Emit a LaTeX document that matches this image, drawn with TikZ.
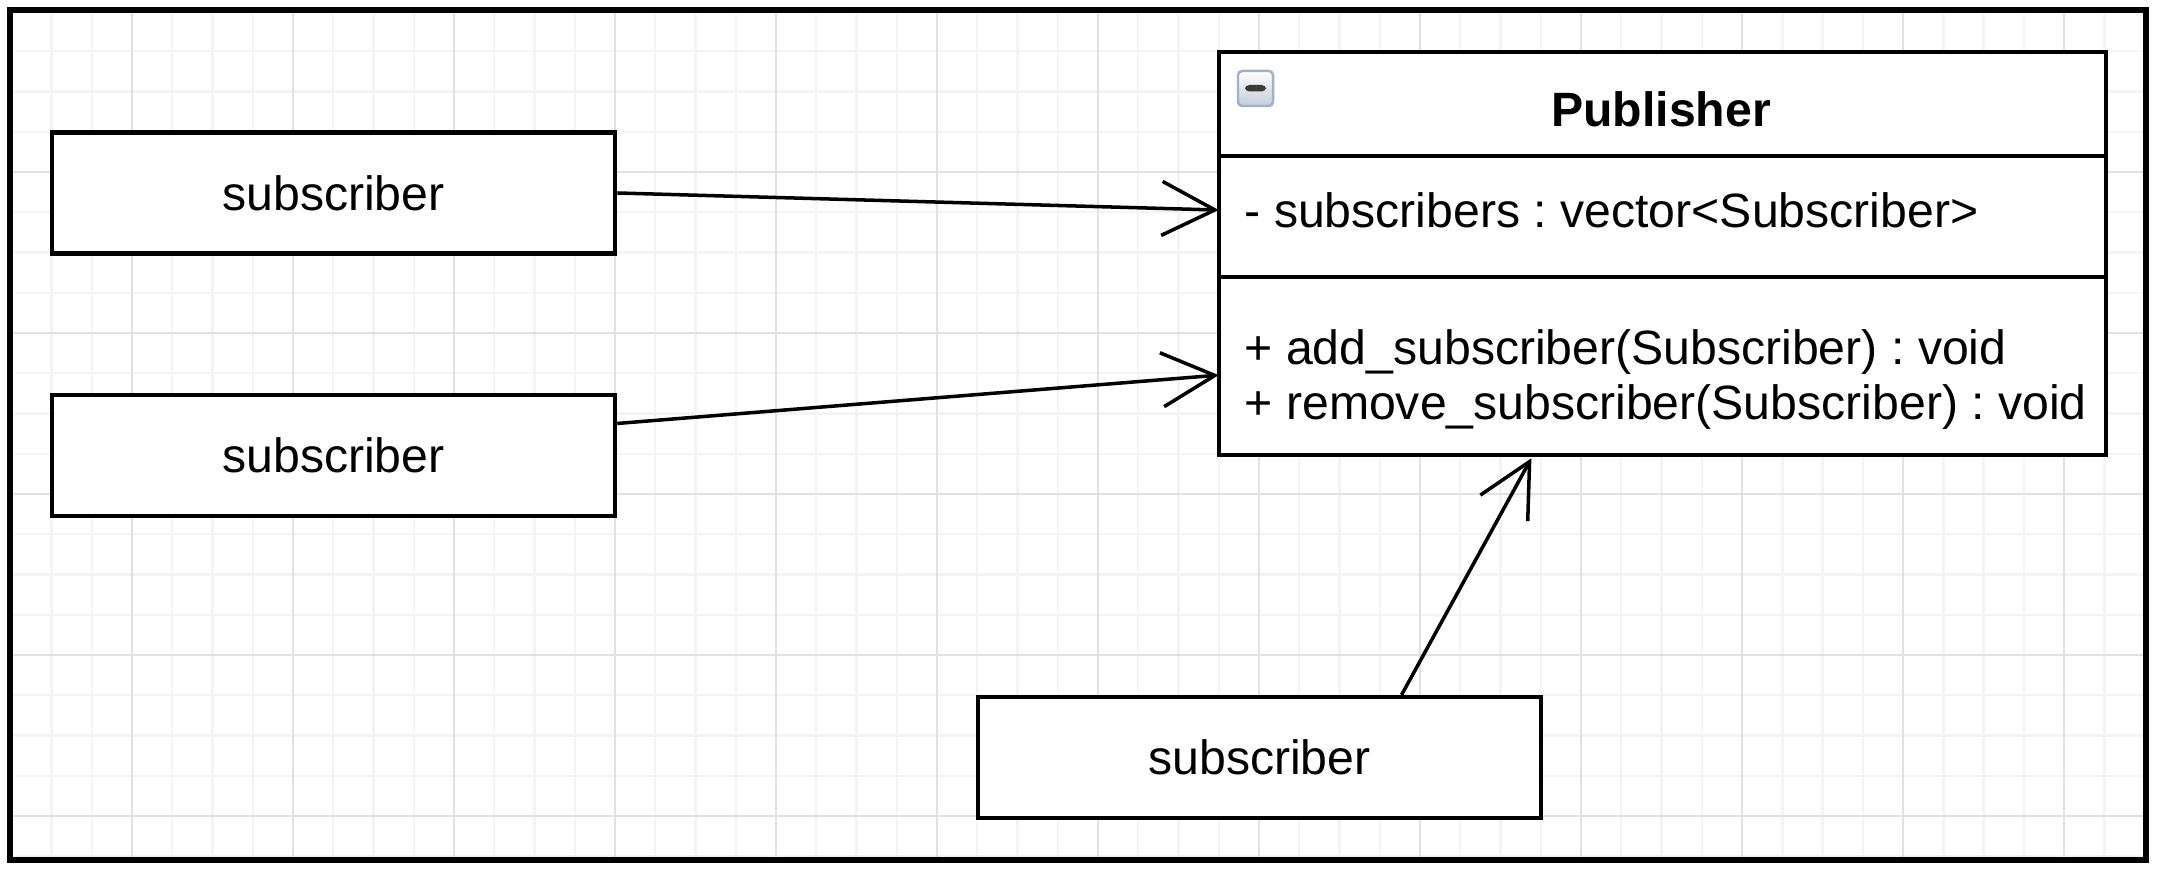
\documentclass[tikz,border=0pt]{standalone}
\usepackage{fontspec}
\setmainfont{Liberation Sans}
\usepackage{tikz}
\usetikzlibrary{arrows.meta,positioning}
\frenchspacing
\definecolor{gridlight}{HTML}{F4F4F4}
\definecolor{griddark}{HTML}{E1E1E1}
\definecolor{iconedge}{HTML}{9DB2C8}
\definecolor{iconfill}{HTML}{C4CCD6}
\definecolor{iconbar}{HTML}{3A3A3A}
\tikzstyle{gridminor}=[draw=gridlight,line width=0.7pt]
\tikzstyle{gridmajor}=[draw=griddark,line width=0.7pt]
\tikzstyle{outerframe}=[draw=black,line width=1.45pt]
\tikzstyle{subbox}=[draw,fill=white,line width=1.2pt,minimum width=5.63cm,minimum height=1.21cm,inner sep=0pt]
\tikzstyle{classpart}=[draw,fill=white,line width=1.15pt,minimum width=8.87cm,inner sep=0pt,outer sep=0pt]
\tikzstyle{member}=[anchor=base west,inner sep=0pt]
\tikzstyle{assoc}=[line width=1pt,-{Straight Barb[length=0.53cm,width=0.54cm]}]
\tikzstyle{foldicon}=[draw=iconedge,line width=0.7pt,rounded corners=1.2pt,minimum size=0.35cm,inner sep=0pt,top color=white,bottom color=iconfill,path picture={\fill[iconbar] ([xshift=-0.105cm,yshift=-0.03cm]path picture bounding box.center) rectangle ([xshift=0.105cm,yshift=0.035cm]path picture bounding box.center);}]

\begin{document}
\begin{tikzpicture}[x=0.01cm,y=-0.01cm,font=\fontsize{13.7}{15.6}\selectfont]
\useasboundingbox (0,0) rectangle (2163,871);
\fill[white] (0,0) rectangle (2163,871);
% background grid
\foreach \i in {0,...,53} \draw[gridminor] ({11.25+40.25*\i},12) -- ({11.25+40.25*\i},858);
\foreach \j in {1,...,21} \draw[gridminor] (12,{11+40.25*\j}) -- (2144,{11+40.25*\j});
\foreach \i in {3,7,...,51} \draw[gridmajor] ({11.25+40.25*\i},12) -- ({11.25+40.25*\i},858);
\foreach \j in {4,8,...,20} \draw[gridmajor] (12,{11+40.25*\j}) -- (2144,{11+40.25*\j});
\draw[outerframe] (10,10) rectangle (2146,860);
% subscribers
\node[subbox] (sub1) at (333.5,193) {subscriber};
\node[subbox] (sub2) at (333.5,455.5) {subscriber};
\node[subbox] (sub3) at (1259.5,757.5) {subscriber};
% publisher class
\node[classpart,minimum height=1.04cm] (pubhead) at (1662.5,104) {};
\node[classpart,minimum height=1.21cm,below=0pt of pubhead] (pubattr) {};
\node[classpart,minimum height=1.78cm,below=0pt of pubattr] (pubops) {};
\node[foldicon] (fold) at (1255.5,88.5) {};
\node[anchor=base,inner sep=0pt,font=\fontsize{13.7}{15.6}\selectfont\bfseries] (pubname) at (1661,127) {Publisher};
\node[member] (attr) at (1244,228) {- subscribers : vector<Subscriber>};
\node[member] (opadd) at (1244,365) {+ add\_subscriber(Subscriber) : void};
\node[member] (opremove) at (1244,420) {+ remove\_subscriber(Subscriber) : void};
% associations
\draw[assoc] (sub1.east) -- ([yshift=0.065cm]pubattr.west);
\draw[assoc] ([yshift=0.32cm]sub2.east) -- ([yshift=-0.09cm]pubops.west);
\draw[assoc] ([xshift=1.42cm]sub3.north) -- ([xshift=-1.31cm,yshift=-0.03cm]pubops.south);
\end{tikzpicture}
\end{document}
